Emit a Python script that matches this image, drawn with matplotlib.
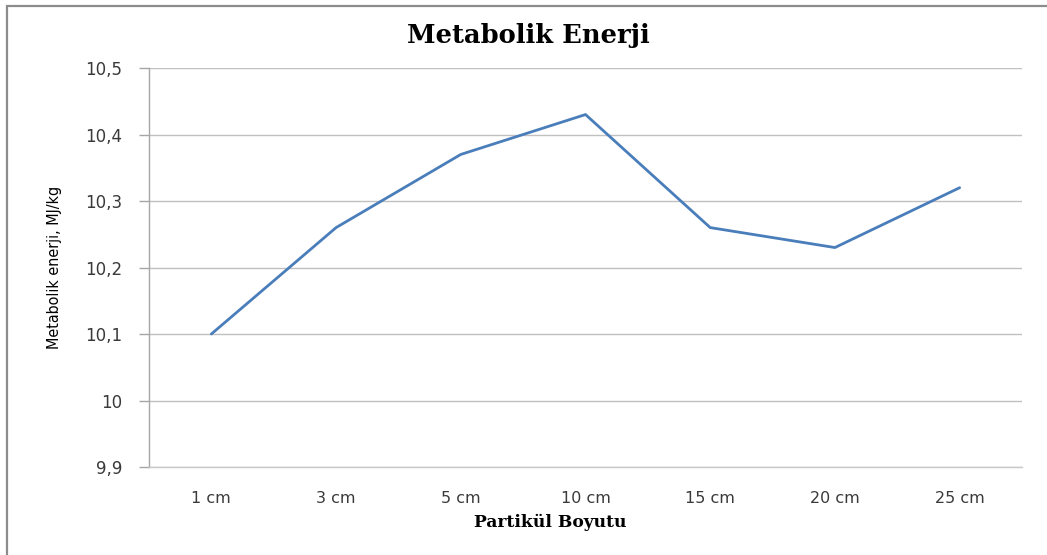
import matplotlib
matplotlib.use("Agg")
import matplotlib.pyplot as plt
from matplotlib.patches import Rectangle
from matplotlib.ticker import FixedLocator, FuncFormatter

categories = ["1 cm", "3 cm", "5 cm", "10 cm", "15 cm", "20 cm", "25 cm"]
energy = [10.10, 10.26, 10.37, 10.43, 10.26, 10.23, 10.32]
y_ticks = [9.9, 10.0, 10.1, 10.2, 10.3, 10.4, 10.5]

W, H = 1047, 555
fig = plt.figure(figsize=(W / 100, H / 100), dpi=100)
fig.patch.set_facecolor("white")

# outer chart frame (open on the right and bottom edges)
fig.patches.append(Rectangle((7 / W, -0.05), 1.1, 1 - 6 / H + 0.05,
                             transform=fig.transFigure, fill=False,
                             edgecolor="#8c8c8c", linewidth=1.6, zorder=0))

ax = fig.add_axes([149 / W, 1 - 467 / H, (1022 - 149) / W, (467 - 68) / H])
x = list(range(len(categories)))
ax.plot(x, energy, color="#4a7ebb", linewidth=2.0, solid_capstyle="round", zorder=3)

ax.set_xlim(-0.5, len(categories) - 0.5)
ax.set_ylim(9.9, 10.5)
ax.yaxis.set_major_locator(FixedLocator(y_ticks))
ax.yaxis.set_major_formatter(FuncFormatter(
    lambda v, _: ("%g" % round(v, 1)).replace(".", ",")))
ax.set_xticks(x)
ax.set_xticklabels(categories)

ax.grid(axis="y", color="#c0c0c0", linewidth=1.0)
ax.set_axisbelow(True)
for s in ("top", "right"):
    ax.spines[s].set_visible(False)
ax.spines["left"].set_color("#a6a6a6")
ax.spines["bottom"].set_color("#c8c8c8")
ax.spines["left"].set_linewidth(1.0)
ax.spines["bottom"].set_linewidth(1.0)
ax.tick_params(axis="y", length=7, color="#a6a6a6", width=1.0,
               labelsize=12, labelcolor="#3a3a3a", pad=12)
ax.tick_params(axis="x", length=0, labelsize=11.5, labelcolor="#3a3a3a", pad=17)
for lab in ax.get_yticklabels() + ax.get_xticklabels():
    lab.set_family(["DejaVu Sans"])

fig.text(528 / W, 1 - 35 / H, "Metabolik Enerji", ha="center", va="center",
         fontsize=18.5, fontweight="bold", family=["DejaVu Serif"])
fig.text(550 / W, 1 - 522 / H, "Partikül Boyutu", ha="center", va="center",
         fontsize=12.3, fontweight="bold", family=["DejaVu Serif"])
fig.text(55 / W, 1 - 267 / H, "Metabolik enerji, MJ/kg", ha="center", va="center",
         rotation=90, fontsize=11.5, fontstretch="condensed",
         family=["Liberation Sans Narrow", "DejaVu Sans"])

fig.savefig("out.png", dpi=100, facecolor="white")
